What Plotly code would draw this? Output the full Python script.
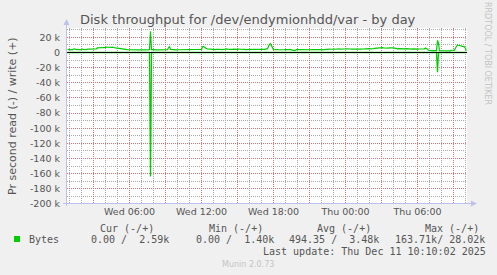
import plotly.graph_objects as go
import pandas as pd

# ---------------- data (5-minute samples, units of k bytes/s) ----------------
start_time = "2025-12-10 00:47:30"
end_time = "2025-12-11 10:07:30"
first_sample = "2025-12-10 00:50"
write_k = [
    4.2, 4.0, 4.5, 4.6, 3.8, 3.6, 4.6, 4.8, 4.0, 4.1, 4.3, 4.5, 3.9, 3.7, 4.4, 4.6, 4.1, 3.9, 3.7, 3.8,
    4.5, 4.6, 4.2, 4.0, 3.9, 4.1, 4.3, 4.6, 4.8, 4.9, 6.0, 6.2, 6.8, 6.6, 7.0, 7.1, 6.6, 6.4, 7.1, 7.0,
    6.9, 6.7, 6.5, 6.6, 6.8, 7.0, 6.2, 6.3, 6.0, 5.8, 5.5, 5.3, 5.0, 4.8, 4.6, 4.4, 3.6, 3.7, 3.4, 3.5,
    3.7, 3.6, 3.5, 3.4, 3.3, 3.5, 3.6, 3.8, 3.8, 3.6, 3.4, 3.5, 3.5, 3.7, 3.7, 3.6, 3.6, 3.5, 3.4, 3.5,
    3.5, 3.6, 3.7, 28.02, 3.8, 3.8, 3.5, 3.6, 3.6, 3.5, 3.4, 3.5, 3.7, 3.6, 3.5, 3.4, 3.3, 3.4, 3.6, 3.5,
    3.6, 6.5, 7.5, 4.0, 3.8, 3.5, 3.6, 3.9, 3.7, 3.4, 3.6, 3.6, 4.0, 3.8, 3.5, 3.7, 3.7, 3.9, 3.6, 3.4,
    3.8, 3.7, 3.6, 3.5, 3.8, 3.9, 3.6, 3.7, 3.4, 3.8, 3.6, 3.7, 3.9, 3.8, 4.0, 7.5, 8.0, 6.8, 5.5, 5.0,
    4.8, 4.6, 4.5, 4.2, 4.0, 4.2, 3.8, 4.1, 3.9, 4.3, 4.6, 4.4, 4.2, 4.0, 3.7, 3.9, 4.1, 4.0, 4.5, 4.8,
    4.3, 4.1, 4.0, 4.2, 3.9, 4.1, 4.4, 4.2, 4.0, 3.8, 4.2, 4.5, 4.1, 3.9, 4.3, 4.0, 4.4, 4.2, 3.9, 4.1,
    4.0, 4.2, 3.8, 4.1, 4.3, 4.0, 3.9, 4.2, 4.4, 4.1, 3.8, 4.0, 4.3, 4.2, 3.9, 4.1, 4.0, 4.2, 4.5, 4.3,
    5.0, 8.0, 11.0, 11.5, 9.0, 5.0, 3.8, 3.6, 3.9, 4.0, 3.7, 3.6, 3.5, 3.8, 3.6, 3.7, 3.8, 3.8, 3.9, 3.6,
    3.7, 3.8, 4.0, 3.8, 3.6, 3.9, 2.8, 2.5, 3.7, 3.8, 4.0, 3.6, 3.7, 3.9, 3.8, 3.6, 3.7, 4.0, 4.1, 3.8,
    3.9, 3.7, 3.8, 3.6, 3.9, 4.0, 3.7, 3.8, 3.6, 3.9, 3.8, 3.7, 4.0, 3.9, 3.6, 3.8, 3.7, 3.9, 4.0, 3.8,
    4.0, 4.2, 4.5, 4.3, 4.6, 4.4, 4.8, 4.5, 4.3, 4.7, 4.5, 4.9, 4.4, 4.3, 4.6, 4.5, 4.7, 4.4, 4.6, 4.8,
    4.9, 5.2, 5.0, 4.6, 4.4, 4.2, 4.5, 4.3, 4.1, 4.4, 4.6, 4.3, 4.5, 4.7, 4.4, 4.6, 4.8, 4.5, 4.7, 4.6,
    4.8, 5.0, 5.2, 4.9, 5.3, 5.5, 5.2, 5.4, 5.6, 5.8, 5.5, 5.7, 6.0, 6.2, 5.9, 6.3, 6.0, 5.8, 5.6, 5.4,
    5.6, 5.9, 6.2, 6.4, 6.6, 6.3, 6.0, 5.7, 5.2, 5.0, 4.8, 5.1, 4.9, 4.7, 5.0, 4.8, 4.6, 4.9, 4.7, 5.0,
    4.7, 4.5, 4.8, 4.6, 4.4, 4.7, 4.5, 4.6, 4.8, 4.5, 4.7, 4.4, 4.6, 4.5, 4.7, 4.8, 4.6, 4.9, 6.0, 4.5,
    4.2, 3.0, 2.6, 2.5, 2.5, 2.4, 2.6, 2.5, 2.4, 2.5, 16.0, 12.0, 2.3, 2.2, 2.4, 2.3, 2.1, 2.3, 2.2, 2.0,
    2.2, 2.1, 2.3, 2.2, 3.0, 3.0, 3.1, 3.0, 6.0, 9.0, 10.0, 9.5, 9.0, 9.2, 8.8, 8.5, 8.0, 7.5, 5.0, 2.59,
]
read_spike_index = [83, 370]
read_spike_k = [163.71, 26.0]

y_tick_vals = [20000, 0, -20000, -40000, -60000, -80000, -100000, -120000,
               -140000, -160000, -180000, -200000]
y_tick_text = ["20 k", "0", "-20 k", "-40 k", "-60 k", "-80 k", "-100 k",
               "-120 k", "-140 k", "-160 k", "-180 k", "-200 k"]

legend_headers = ["Cur (-/+)", "Min (-/+)", "Avg (-/+)", "Max (-/+)"]
legend_values = ["0.00 /  2.59k", "0.00 /  1.40k", "494.35 /  3.48k", "163.71k/ 28.02k"]
series_name = "Bytes"
title_text = "Disk throughput for /dev/endymionhdd/var - by day"
y_title = "Pr second read (-) / write (+)"
last_update = "Last update: Thu Dec 11 10:10:02 2025"
# ------------------------------------------------------------------------------

times = pd.date_range(first_sample, periods=len(write_k), freq="5min")
write = [v * 1000 for v in write_k]
read = [0.0] * len(write_k)
for idx, v in zip(read_spike_index, read_spike_k):
    read[idx] = -v * 1000

W, H = 497, 275
L, R, T, B = 67, 30, 28, 71
PW, PH = W - L - R, H - T - B

def px(x):
    return (x - L) / PW

def py(y):
    return 1 - (y - T) / PH

GREEN = "#00CC00"
TXT = "#555555"
MONO = "DejaVu Sans Mono"
SANS = "DejaVu Sans"
RED_GRID = "#DD7070"
GREY_GRID = "#A8A8A8"

fig = go.Figure()
fig.add_trace(go.Scatter(x=times, y=read, mode="lines", line=dict(color=GREEN, width=1.3),
                         hoverinfo="skip"))
fig.add_trace(go.Scatter(x=times, y=write, mode="lines", line=dict(color=GREEN, width=1.2),
                         hoverinfo="skip"))

major_x = pd.date_range("2025-12-10 03:00", "2025-12-11 09:00", freq="3h")
major_txt = [t.strftime("%a %H:%M") if t.hour % 6 == 0 else "" for t in major_x]

fig.update_layout(
    width=W, height=H,
    margin=dict(l=L, r=R, t=T, b=B),
    paper_bgcolor="#F0F0F0", plot_bgcolor="#FFFFFF",
    showlegend=False,
    font=dict(family=SANS, color=TXT, size=10),
    xaxis=dict(
        type="date", range=[start_time, end_time],
        tickvals=list(major_x), ticktext=major_txt,
        showgrid=True, gridcolor=RED_GRID, griddash="1px,1px", gridwidth=1,
        minor=dict(dtick=3600000, tick0="2025-12-10 00:00", showgrid=True,
                   gridcolor=GREY_GRID, griddash="1px,1px", gridwidth=1),
        ticks="", showline=False, zeroline=False,
        tickfont=dict(family=SANS, size=9.5, color=TXT),
        fixedrange=True,
    ),
    yaxis=dict(
        range=[-200000, 32343],
        tickvals=y_tick_vals, ticktext=y_tick_text,
        showgrid=True, gridcolor=RED_GRID, griddash="1px,1px", gridwidth=1,
        minor=dict(dtick=10000, tick0=0, showgrid=True,
                   gridcolor=GREY_GRID, griddash="1px,1px", gridwidth=1),
        ticks="", showline=False, zeroline=False,
        tickfont=dict(family=SANS, size=9.5, color=TXT),
        ticklabelstandoff=6,
        fixedrange=True,
    ),
)

shapes = []
AX = "#C0C0F0"
# zero line (black) above traces
shapes.append(dict(type="line", xref="paper", yref="y", x0=0, x1=1, y0=0, y1=0,
                   line=dict(color="black", width=1), layer="above"))
# left axis with arrow
shapes.append(dict(type="line", xref="paper", yref="paper", x0=px(L - 0.5), x1=px(L - 0.5),
                   y0=py(H - B + 2), y1=py(24), line=dict(color=AX, width=1), layer="above"))
shapes.append(dict(type="path", xref="paper", yref="paper",
                   path=f"M {px(L-3.5)},{py(25)} L {px(L+2.5)},{py(25)} L {px(L-0.5)},{py(19)} Z",
                   fillcolor=AX, line=dict(color=AX, width=0), layer="above"))
# bottom axis with arrow
shapes.append(dict(type="line", xref="paper", yref="paper", x0=px(L - 4), x1=px(W - R + 5),
                   y0=py(H - B - 0.5), y1=py(H - B - 0.5), line=dict(color=AX, width=1), layer="above"))
shapes.append(dict(type="path", xref="paper", yref="paper",
                   path=f"M {px(W-R+4)},{py(H-B-3.5)} L {px(W-R+4)},{py(H-B+2.5)} L {px(W-R+10)},{py(H-B-0.5)} Z",
                   fillcolor=AX, line=dict(color=AX, width=0), layer="above"))
# legend color square
shapes.append(dict(type="rect", xref="paper", yref="paper", x0=px(14), x1=px(20), y0=py(242), y1=py(236),
                   fillcolor=GREEN, line=dict(color=GREEN, width=0)))
fig.update_layout(shapes=shapes)

ann = []
def text(x, y, s, size=10, family=SANS, color=TXT, xanchor="left", angle=0):
    ann.append(dict(x=px(x), y=py(y), xref="paper", yref="paper", text=s.replace(" ", "\u00a0"),
                    showarrow=False, xanchor=xanchor, yanchor="middle", textangle=angle,
                    font=dict(family=family, size=size, color=color)))

text(248, 19, title_text, size=13, xanchor="center")
text(12, 116, y_title, size=11, xanchor="center", angle=-90)
text(488, 53, "RRDTOOL / TOBI OETIKER", size=8, color="#C4C4C4", xanchor="center", angle=90)

for x, s in zip([98.3, 206.7, 315, 422.7], legend_headers):
    text(x, 228, s, family=MONO)
text(26.7, 239.5, series_name, family=MONO)
for x, s in zip([89.3, 194.3, 286.7, 392.7], legend_values):
    text(x, 239.5, s, family=MONO)
text(261, 251.5, last_update, family=MONO)
text(248, 264.5, "Munin 2.0.73", size=8, color="#C4C4C4", xanchor="center")
fig.update_layout(annotations=ann)

fig.write_html("out.html")
